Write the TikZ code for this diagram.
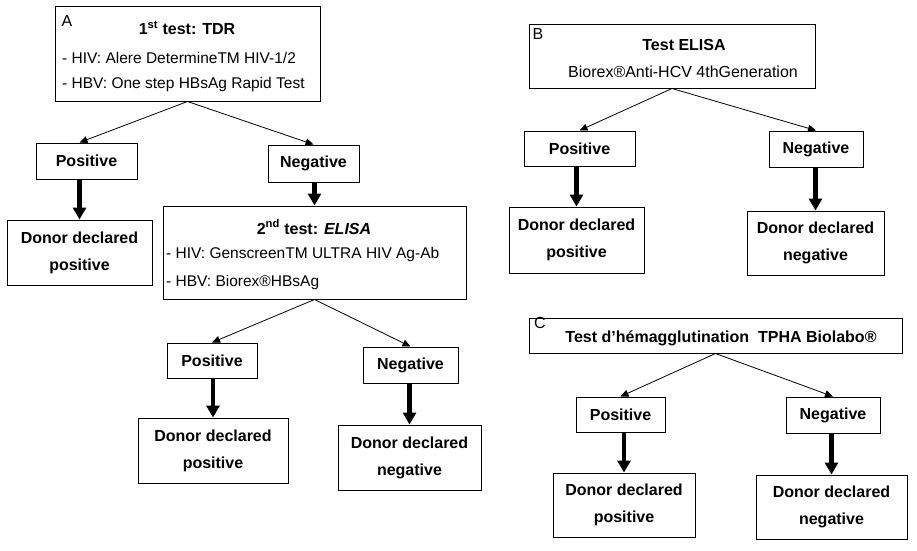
\documentclass[tikz,border=0pt]{standalone}
\usepackage{fontspec}
\setmainfont{Liberation Sans}
\usetikzlibrary{arrows.meta}
\tikzset{
    box/.style={ % rahmen
        draw,
        line width=1pt,
        inner sep=0pt,
        align=center
    },
    ergebnis/.style={box, font=\fontsize{16}{19}\selectfont\bfseries},
    spender/.style={box, font=\fontsize{16}{27}\selectfont\bfseries},
    titel/.style={inner sep=0pt, font=\fontsize{16}{19}\selectfont\bfseries},
    zeile/.style={anchor=west, inner sep=0pt, font=\fontsize{15.5}{18}\selectfont},
    buchst/.style={inner sep=0pt, font=\fontsize{16}{19}\selectfont},
    pfeil/.style={ % duenne pfeile
        draw,
        line width=0.8pt,
        -{Triangle[length=8pt,width=7pt]}
    },
    dickpfeil/.style={ % dicke pfeile
        draw,
        line width=4.5pt,
        -{Triangle[length=12pt,width=13pt]}
    }
}

\begin{document}
\begin{tikzpicture}[x=1pt, y=-1pt]
        \useasboundingbox (0,0) rectangle (917,550);
        % teil A
        \node[box, minimum width=265pt, minimum height=95pt] (top1) at (187.5,53.5) {};
        \node[buchst]                        (lA)     at (67,21)    {A};
        \node[titel]                         (t1)     at (187,28)   {1\textsuperscript{st} test: TDR};
        \node[zeile]                         (hiv1)   at (62,58)    {- HIV: Alere DetermineTM HIV-1/2};
        \node[zeile]                         (hbv1)   at (62,84)    {- HBV: One step HBsAg Rapid Test};
        \node[ergebnis, minimum width=101pt, minimum height=36pt] (pos1) at (86.5,161)   {Positive};
        \node[ergebnis, minimum width=91pt,  minimum height=37pt] (neg1) at (313.5,163.5) {Negative};
        \node[spender,  minimum width=145pt, minimum height=65pt] (don1) at (79.5,252.5) {Donor declared\\positive};
        % zweiter test
        \node[box, minimum width=303pt, minimum height=93pt] (test2) at (314.5,252.5) {};
        \node[titel]                         (t2)     at (314,227)  {2\textsuperscript{nd} test: \textit{ELISA}};
        \node[zeile]                         (hiv2)   at (166,254)  {- HIV: GenscreenTM ULTRA HIV Ag-Ab};
        \node[zeile]                         (hbv2)   at (166,282)  {- HBV: Biorex®HBsAg};
        \node[ergebnis, minimum width=90pt,  minimum height=35pt] (pos2) at (212,360.5)  {Positive};
        \node[ergebnis, minimum width=95pt,  minimum height=36pt] (neg2) at (410.5,365)  {Negative};
        \node[spender,  minimum width=150pt, minimum height=65pt] (don2p) at (213,450.5) {Donor declared\\positive};
        \node[spender,  minimum width=143pt, minimum height=65pt] (don2n) at (409.5,457.5) {Donor declared\\negative};
        % teil B
        \node[box, minimum width=286pt, minimum height=64pt] (topB) at (672,56) {};
        \node[buchst]                        (lB)     at (538,34)   {B};
        \node[titel]                         (tB)     at (684,45)   {Test ELISA};
        \node[buchst]                        (sB)     at (683,72)   {Biorex®Anti-HCV 4thGeneration};
        \node[ergebnis, minimum width=111pt, minimum height=35pt] (posB) at (579.5,148.5) {Positive};
        \node[ergebnis, minimum width=94pt,  minimum height=36pt] (negB) at (816,149)     {Negative};
        \node[spender,  minimum width=135pt, minimum height=66pt] (donBp) at (576.5,240)  {Donor declared\\positive};
        \node[spender,  minimum width=137pt, minimum height=64pt] (donBn) at (815.5,243)  {Donor declared\\negative};
        % teil C
        \node[box, minimum width=373pt, minimum height=35pt] (topC) at (715.5,335.5) {};
        \node[buchst]                        (lC)     at (540,323)  {C};
        \node[titel]                         (tC)     at (721,338)  {Test d’hémagglutination\ \ TPHA Biolabo®};
        \node[ergebnis, minimum width=89pt,  minimum height=35pt] (posC) at (620.5,414.5) {Positive};
        \node[ergebnis, minimum width=94pt,  minimum height=36pt] (negC) at (833,415)     {Negative};
        \node[spender,  minimum width=142pt, minimum height=64pt] (donCp) at (624,505)    {Donor declared\\positive};
        \node[spender,  minimum width=151pt, minimum height=64pt] (donCn) at (831.5,507)  {Donor declared\\negative};

        \draw
                % teil A
                (top1.south)            edge[pfeil]     (pos1.north -| don1.north)
                (top1.south)            edge[pfeil]     (neg1.north)
                (pos1.south -| don1)    edge[dickpfeil] (don1.north)
                (neg1.south -| test2)   edge[dickpfeil] (test2.north)
                (test2.south)           edge[pfeil]     (pos2.north)
                (test2.south)           edge[pfeil]     (neg2.north)
                (pos2.south -| don2p)   edge[dickpfeil] (don2p.north)
                (neg2.south -| don2n)   edge[dickpfeil] (don2n.north)
                % teil B
                (topB.south)            edge[pfeil]     (posB.north)
                (topB.south)            edge[pfeil]     (negB.north)
                (posB.south -| donBp)   edge[dickpfeil] (donBp.north)
                (negB.south -| donBn)   edge[dickpfeil] (donBn.north)
                % teil C
                (topC.south)            edge[pfeil]     (posC.north)
                (topC.south)            edge[pfeil]     (negC.north)
                (posC.south -| donCp)   edge[dickpfeil] (donCp.north)
                (negC.south -| donCn)   edge[dickpfeil] (donCn.north)
        ;
\end{tikzpicture}
\end{document}
